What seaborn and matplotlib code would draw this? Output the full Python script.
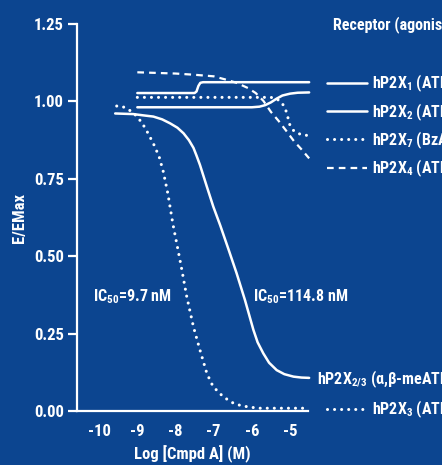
import matplotlib
matplotlib.use('Agg')
import pandas as pd
import matplotlib.pyplot as plt
import seaborn as sns

# values (x = log [Cmpd A] in M, y = E/EMax)
x_p2x1 = [-9.0, -7.5, -7.45, -7.40, -7.35, -7.28, -4.5]
y_p2x1 = [1.027, 1.027, 1.032, 1.050, 1.060, 1.062, 1.062]

x_p2x2 = [-9.0, -6.0, -5.8, -5.65, -5.5, -5.35, -5.2, -5.0, -4.8, -4.5]
y_p2x2 = [0.981, 0.981, 0.983, 0.988, 0.997, 1.009, 1.019, 1.025, 1.028, 1.029]

x_p2x7 = [-9.0, -5.5, -5.35, -5.22, -5.12, -5.06, -5.02, -4.93, -4.8, -4.65, -4.5]
y_p2x7 = [1.013, 1.013, 1.008, 0.997, 0.975, 0.950, 0.928, 0.908, 0.897, 0.891, 0.890]

x_p2x4 = [-9.0, -8.5, -8.0, -7.5, -7.0, -6.7, -6.4, -6.1, -5.9, -5.7, -5.5,
          -5.3, -5.1, -4.9, -4.7, -4.5]
y_p2x4 = [1.094, 1.092, 1.090, 1.086, 1.081, 1.071, 1.060, 1.043, 1.027, 1.002,
          0.966, 0.937, 0.905, 0.872, 0.845, 0.816]

x_p2x23 = [-9.58, -9.10, -8.85, -8.58, -8.35, -8.14, -7.95, -7.79, -7.65, -7.53,
           -7.45, -7.36, -7.18, -7.01, -6.83, -6.62, -6.40, -6.18, -5.96, -5.85,
           -5.70, -5.55, -5.35, -5.15, -4.91, -4.7, -4.5]
y_p2x23 = [0.961, 0.959, 0.955, 0.951, 0.942, 0.929, 0.915, 0.897, 0.875, 0.850,
           0.825, 0.795, 0.725, 0.660, 0.600, 0.525, 0.445, 0.358, 0.262, 0.222,
           0.186, 0.156, 0.132, 0.119, 0.111, 0.108, 0.107]

x_p2x3 = [-9.54, -9.38, -9.21, -9.08, -8.95, -8.85, -8.75, -8.58, -8.43, -8.32,
          -8.20, -8.07, -7.95, -7.84, -7.71, -7.53, -7.36, -7.18, -7.08, -7.01,
          -6.88, -6.75, -6.6, -6.48, -6.3, -6.13, -5.95, -5.80, -4.5]
y_p2x3 = [0.985, 0.983, 0.972, 0.960, 0.942, 0.925, 0.904, 0.864, 0.822, 0.773,
          0.702, 0.605, 0.530, 0.460, 0.372, 0.272, 0.197, 0.122, 0.095, 0.078,
          0.062, 0.046, 0.034, 0.025, 0.018, 0.014, 0.011, 0.009, 0.009]

labels = ['hP2X$_1$ (ATP)', 'hP2X$_2$ (ATP)', 'hP2X$_7$ (BzATP)', 'hP2X$_4$ (ATP)',
          'hP2X$_{2/3}$ (α,β-meATP)', 'hP2X$_3$ (ATP)']

y_ticks = [0.00, 0.25, 0.50, 0.75, 1.00, 1.25]
x_ticks = [-10, -9, -8, -7, -6, -5]

bg = '#0c4590'
fg = 'white'

sns.set_theme(style='white')
plt.rcParams['font.family'] = ['Roboto Condensed', 'DejaVu Sans']
plt.rcParams['font.weight'] = 'bold'
plt.rcParams['axes.labelweight'] = 'bold'
plt.rcParams['mathtext.default'] = 'regular'

fs = 11.5

fig = plt.figure(figsize=(4.42, 4.65), dpi=100, facecolor=bg)
ax = fig.add_axes([77 / 442, 1 - 411 / 465, 231 / 442, 387 / 465])
ax.set_facecolor(bg)

solid = dict(linestyle='-', linewidth=1.8)
dotted = dict(linestyle=(0, (0.01, 2.3)), linewidth=2.2, dash_capstyle='round')
dashed = dict(linestyle=(0, (3.0, 2.3)), linewidth=1.6)

series = [
    (x_p2x1, y_p2x1, solid),
    (x_p2x2, y_p2x2, solid),
    (x_p2x7, y_p2x7, dotted),
    (x_p2x4, y_p2x4, dashed),
    (x_p2x23, y_p2x23, solid),
    (x_p2x3, y_p2x3, dotted),
]

lines = []
for xs, ys, st in series:
    df = pd.DataFrame({'logc': xs, 'e': ys})
    sns.lineplot(data=df, x='logc', y='e', ax=ax, color=fg, estimator=None,
                 sort=False, legend=False, clip_on=False, **st)
    lines.append(ax.lines[-1])

ax.set_xlim(-10.58, -4.53)
ax.set_ylim(0, 1.25)
ax.set_xticks(x_ticks)
ax.set_xticklabels([str(t) for t in x_ticks])
ax.set_yticks(y_ticks)
ax.set_yticklabels([f'{t:.2f}' for t in y_ticks])

for side in ['top', 'right']:
    ax.spines[side].set_visible(False)
for side in ['left', 'bottom']:
    ax.spines[side].set_color(fg)
    ax.spines[side].set_linewidth(1.6)

ax.tick_params(axis='y', colors=fg, length=6.5, width=1.6, pad=3, labelsize=12, left=True)
ax.tick_params(axis='x', colors=fg, length=0, pad=9, labelsize=12)

ax.set_xlabel('Log [Cmpd A] (M)', color=fg, fontsize=12, labelpad=5)
ax.set_ylabel('E/EMax', color=fg, fontsize=12, labelpad=5)

# IC50 annotations
ax.text(-10.16, 0.368, 'IC$_{50}$=9.7 nM', color=fg, fontsize=fs, va='center')
ax.text(-5.97, 0.368, 'IC$_{50}$=114.8 nM', color=fg, fontsize=fs, va='center')
ax.text(-4.30, 0.103, labels[4], color=fg, fontsize=fs, va='center')

# legend
fig.text(333 / 442, 1 - 25 / 465, 'Receptor (agonist)', color=fg, fontsize=11.5, va='center')
leg1 = fig.legend(lines[:4], labels[:4], loc='upper left',
                  bbox_to_anchor=(319 / 442, 1 - 65 / 465), frameon=False,
                  fontsize=fs, labelcolor=fg, handlelength=2.5, handletextpad=0.3,
                  labelspacing=0.42, borderpad=0)
leg2 = fig.legend(lines[5:], labels[5:], loc='upper left',
                  bbox_to_anchor=(319 / 442, 1 - 391 / 465), frameon=False,
                  fontsize=fs, labelcolor=fg, handlelength=2.5, handletextpad=0.3,
                  borderpad=0)

fig.savefig('out.png', dpi=100, facecolor=bg)
